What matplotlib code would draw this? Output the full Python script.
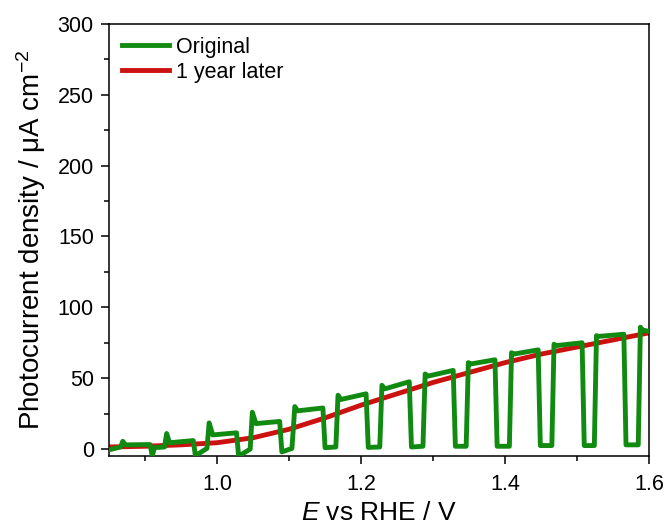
import numpy as np
import matplotlib
matplotlib.use("Agg")
import matplotlib.pyplot as plt
from matplotlib.ticker import MultipleLocator

plt.rcParams['font.family'] = ['Liberation Sans', 'DejaVu Sans']
plt.rcParams['mathtext.fontset'] = 'custom'
plt.rcParams['mathtext.rm'] = 'Liberation Sans'
plt.rcParams['mathtext.it'] = 'Liberation Sans:italic'

# chopped-light LSV, original sample: (E, j) vertices of the trace
E_orig = [0.850, 0.866, 0.869, 0.873, 0.907, 0.910, 0.913, 0.927,
          0.930, 0.934, 0.967, 0.970, 0.975, 0.986, 0.989, 0.994,
          1.027, 1.030, 1.046, 1.049, 1.054, 1.087, 1.090, 1.104,
          1.108, 1.112, 1.147, 1.150, 1.165, 1.168, 1.172, 1.207,
          1.210, 1.226, 1.229, 1.233, 1.267, 1.270, 1.286, 1.289,
          1.293, 1.328, 1.331, 1.346, 1.349, 1.352, 1.386, 1.389,
          1.406, 1.409, 1.412, 1.446, 1.449, 1.465, 1.468, 1.471,
          1.507, 1.510, 1.524, 1.527, 1.530, 1.565, 1.568, 1.585,
          1.588, 1.591, 1.600]
j_orig = [-0.5, 1.5, 5.5, 3.0, 3.2, -5.0, 1.0, 1.5,
          11.0, 4.5, 6.0, -5.0, -3.0, 0.5, 18.5, 10.0,
          11.5, -5.0, 0.0, 26.0, 18.0, 19.5, -2.0, 0.5,
          30.0, 27.0, 29.0, 1.0, 1.5, 38.0, 35.0, 39.0,
          1.2, 1.5, 45.0, 42.5, 47.5, 1.5, 2.0, 53.0,
          51.5, 55.5, 2.0, 2.0, 61.0, 60.0, 63.0, 2.0,
          2.0, 68.0, 67.0, 70.0, 2.5, 2.5, 74.0, 73.0,
          75.0, 2.5, 2.5, 80.0, 79.5, 81.0, 3.0, 3.0,
          86.0, 84.0, 83.0]

# same electrode measured one year later
E_later = [0.85, 0.90, 0.95, 1.00, 1.05, 1.10, 1.15, 1.20,
           1.25, 1.30, 1.35, 1.40, 1.45, 1.50, 1.55, 1.60]
j_later = [1.5, 2.0, 3.0, 4.5, 8.0, 14.0, 22.0, 31.0,
           39.0, 47.0, 54.0, 61.0, 67.0, 72.0, 77.0, 82.0]

fig = plt.figure(figsize=(6.65, 5.28), dpi=100)
ax = fig.add_axes([0.164, 0.136, 0.812, 0.819])

ax.plot(E_orig, j_orig, color='#108a10', lw=3.5, label='Original',
        solid_joinstyle='round', zorder=3)
ax.plot(E_later, j_later, color='#cc1111', lw=3.5, label='1 year later',
        zorder=2)

ax.set_xlim(0.85, 1.6)
ax.set_ylim(-5, 300)
ax.xaxis.set_major_locator(MultipleLocator(0.2))
ax.xaxis.set_minor_locator(MultipleLocator(0.1))
ax.yaxis.set_major_locator(MultipleLocator(50))
ax.yaxis.set_minor_locator(MultipleLocator(25))
ax.xaxis.set_major_formatter(matplotlib.ticker.FormatStrFormatter('%.1f'))

ax.tick_params(which='major', direction='out', length=6, width=1.1,
               labelsize=15.5, pad=5)
ax.tick_params(axis='x', which='major', pad=7)
ax.tick_params(which='minor', direction='out', length=3.5, width=1.1)
for s in ax.spines.values():
    s.set_linewidth(1.1)

ax.set_xlabel('$E$ vs RHE / V', fontsize=19, labelpad=4)
ax.set_ylabel('Photocurrent density / μA cm$^{-2}$', fontsize=20,
              labelpad=7)

ax.legend(loc='upper left', frameon=False, fontsize=15.5, handlelength=2.2,
          handletextpad=0.3, labelspacing=0.2, borderaxespad=0.3,
          borderpad=0.3)

fig.savefig('out.png', dpi=100)
